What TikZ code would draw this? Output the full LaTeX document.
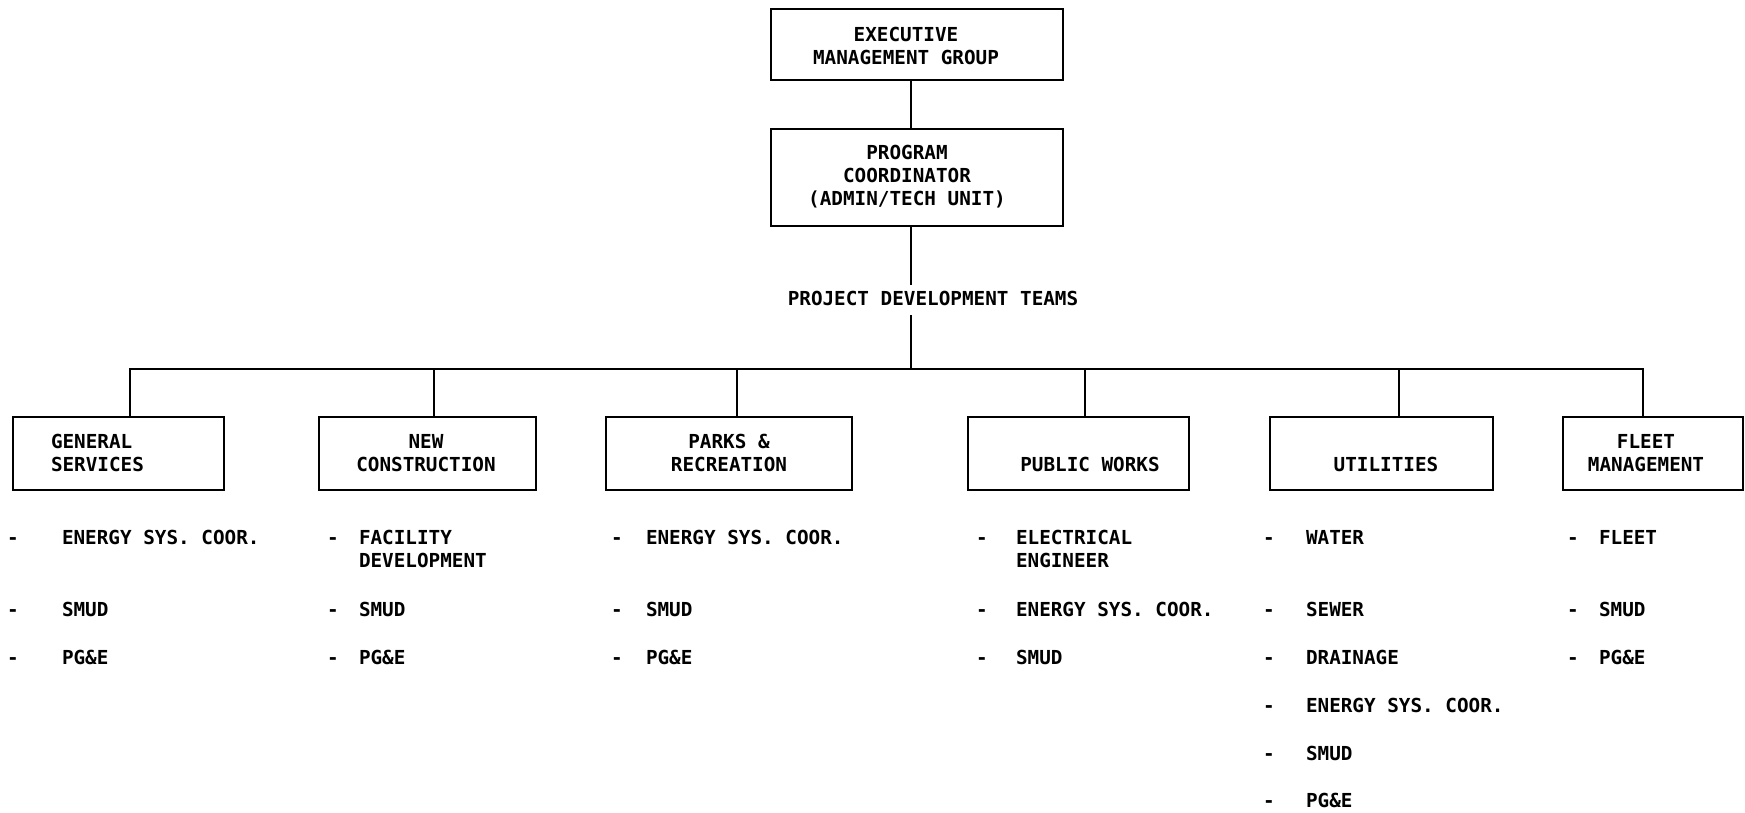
\documentclass[tikz,border=0pt]{standalone}
\usepackage{fontspec}
\newfontfamily\chartfam{DejaVu Sans Mono}
\newcommand\chartfont{\chartfam\bfseries\fontsize{19.3}{23}\selectfont}
% one list entry: name, dash x, text x, row centre y, text
\newcommand\entry[5]{%
  \node[dashmark] (#1-d) at (#2,#4+7) {-};
  \node[entrytext] (#1) at (#3,#4-7) {#5};
}
\begin{document}
\begin{tikzpicture}[x=1pt,y=-1pt,
  every node/.style={font=\chartfont, inner sep=0pt, outer sep=0pt},
  box/.style={draw, line width=1.6pt, rectangle},
  title/.style={align=center},
  link/.style={line width=1.6pt},
  dashmark/.style={anchor=base},
  entrytext/.style={anchor=north west, align=left}]
\useasboundingbox (0,0) rectangle (1745,813);

% top of the chart
\node[box, minimum width=292pt, minimum height=71pt] (exec) at (917,44.5) {};
\node[title] (exec-t) at (906,45.5) {EXECUTIVE\\MANAGEMENT GROUP};
\node[box, minimum width=292pt, minimum height=97pt] (prog) at (917,177.5) {};
\node[title] (prog-t) at (907,177) {PROGRAM\\COORDINATOR\\(ADMIN/TECH UNIT)};
\node (pdt) at (933,298) {PROJECT DEVELOPMENT TEAMS};

\coordinate (spine) at (911,0);
\coordinate (hub) at (911,369);

% department boxes
\node[box, minimum width=211pt, minimum height=73pt] (gs) at (118.5,453.5) {};
\node[box, minimum width=217pt, minimum height=73pt] (nc) at (427.5,453.5) {};
\node[box, minimum width=246pt, minimum height=73pt] (pr) at (729,453.5) {};
\node[box, minimum width=221pt, minimum height=73pt] (pw) at (1078.5,453.5) {};
\node[box, minimum width=223pt, minimum height=73pt] (ut) at (1381.5,453.5) {};
\node[box, minimum width=180pt, minimum height=73pt] (fm) at (1653,453.5) {};

\node[anchor=west, align=left] (gs-t) at (51,453) {GENERAL\\SERVICES};
\node[title] (nc-t) at (426,453) {NEW\\CONSTRUCTION};
\node[title] (pr-t) at (729,453) {PARKS \&\\RECREATION};
\node (pw-t) at (1090,464) {PUBLIC WORKS};
\node (ut-t) at (1386,464) {UTILITIES};
\node[title] (fm-t) at (1646,453) {FLEET\\MANAGEMENT};

% where each branch meets its box
\coordinate (gs-in) at (130,417);
\coordinate (nc-in) at (434,417);
\coordinate (pr-in) at (737,417);
\coordinate (pw-in) at (1085,417);
\coordinate (ut-in) at (1399,417);
\coordinate (fm-in) at (1643,417);

% connectors
\draw[link] (exec.south -| spine) -- (prog.north -| spine);
\draw[link, shorten >=6pt] (prog.south -| spine) -- (pdt.north -| spine);
\draw[link, shorten <=10pt] (pdt.south -| spine) -- (hub);
\foreach \d in {gs,nc,pr,pw,ut,fm}
  \draw[link] (hub) -| (\d-in);

% member lists
\entry{gs1}{13}{62}{537}{ENERGY SYS. COOR.}
\entry{gs2}{13}{62}{609}{SMUD}
\entry{gs3}{13}{62}{657}{PG\&E}

\entry{nc1}{333}{359}{537}{FACILITY\\DEVELOPMENT}
\entry{nc2}{333}{359}{609}{SMUD}
\entry{nc3}{333}{359}{657}{PG\&E}

\entry{pr1}{617}{646}{537}{ENERGY SYS. COOR.}
\entry{pr2}{617}{646}{609}{SMUD}
\entry{pr3}{617}{646}{657}{PG\&E}

\entry{pw1}{982}{1016}{537}{ELECTRICAL\\ENGINEER}
\entry{pw2}{982}{1016}{609}{ENERGY SYS. COOR.}
\entry{pw3}{982}{1016}{657}{SMUD}

\entry{ut1}{1269}{1306}{537}{WATER}
\entry{ut2}{1269}{1306}{609}{SEWER}
\entry{ut3}{1269}{1306}{657}{DRAINAGE}
\entry{ut4}{1269}{1306}{705}{ENERGY SYS. COOR.}
\entry{ut5}{1269}{1306}{753}{SMUD}
\entry{ut6}{1269}{1306}{800}{PG\&E}

\entry{fm1}{1573}{1599}{537}{FLEET}
\entry{fm2}{1573}{1599}{609}{SMUD}
\entry{fm3}{1573}{1599}{657}{PG\&E}
\end{tikzpicture}
\end{document}
